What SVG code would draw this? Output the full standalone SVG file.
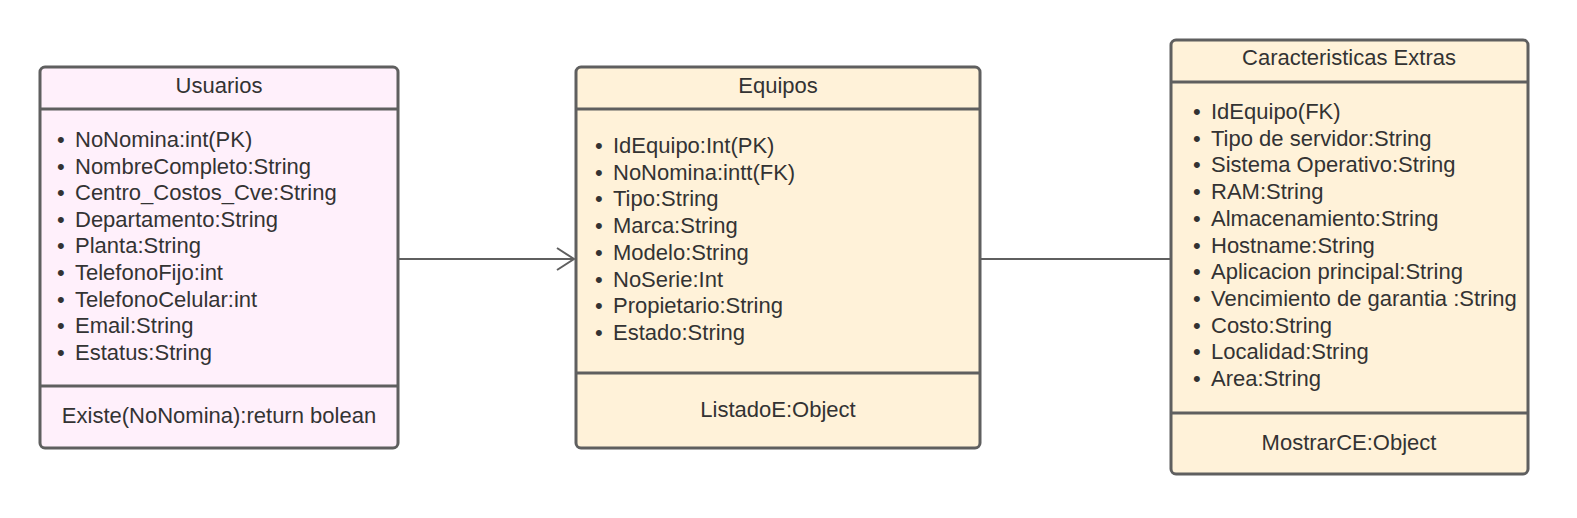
<svg xmlns="http://www.w3.org/2000/svg" width="1577" height="518" viewBox="0 0 1577 518">
<style>
.box{stroke:#5f5f5f;stroke-width:3}
.pink{fill:#fff0fb}
.cream{fill:#fff2d9}
.div{stroke:#5f5f5f;stroke-width:3;fill:none}
text{font-family:"Liberation Sans",Arial,sans-serif;font-size:22px;fill:#333333}
.c{text-anchor:middle}
.conn{stroke:#5f5f5f;stroke-width:2;fill:none}
</style>
<rect width="1577" height="518" fill="#ffffff"/>
<g id="connectors">
<line class="conn" x1="399" y1="259" x2="574" y2="259"/>
<polyline class="conn" points="557,248 574,259 557,270"/>
<line class="conn" x1="980" y1="259" x2="1171" y2="259"/>
</g>
<g id="usuarios">
<rect class="box pink" x="40" y="67" width="358" height="381" rx="5"/>
<line class="div" x1="40" y1="109" x2="398" y2="109"/>
<line class="div" x1="40" y1="386" x2="398" y2="386"/>
<text class="c" x="219" y="93">Usuarios</text>
<g>
<text x="57" y="147">•</text><text x="75" y="147">NoNomina:int(PK)</text>
<text x="57" y="173.6">•</text><text x="75" y="173.6">NombreCompleto:String</text>
<text x="57" y="200.2">•</text><text x="75" y="200.2">Centro_Costos_Cve:String</text>
<text x="57" y="226.8">•</text><text x="75" y="226.8">Departamento:String</text>
<text x="57" y="253.4">•</text><text x="75" y="253.4">Planta:String</text>
<text x="57" y="280">•</text><text x="75" y="280">TelefonoFijo:int</text>
<text x="57" y="306.6">•</text><text x="75" y="306.6">TelefonoCelular:int</text>
<text x="57" y="333.2">•</text><text x="75" y="333.2">Email:String</text>
<text x="57" y="359.8">•</text><text x="75" y="359.8">Estatus:String</text>
</g>
<text class="c" x="219" y="423">Existe(NoNomina):return bolean</text>
</g>
<g id="equipos">
<rect class="box cream" x="576" y="67" width="404" height="381" rx="5"/>
<line class="div" x1="576" y1="109" x2="980" y2="109"/>
<line class="div" x1="576" y1="373" x2="980" y2="373"/>
<text class="c" x="778" y="93">Equipos</text>
<g>
<text x="595" y="153">•</text><text x="613" y="153">IdEquipo:Int(PK)</text>
<text x="595" y="179.7">•</text><text x="613" y="179.7">NoNomina:intt(FK)</text>
<text x="595" y="206.4">•</text><text x="613" y="206.4">Tipo:String</text>
<text x="595" y="233.1">•</text><text x="613" y="233.1">Marca:String</text>
<text x="595" y="259.8">•</text><text x="613" y="259.8">Modelo:String</text>
<text x="595" y="286.5">•</text><text x="613" y="286.5">NoSerie:Int</text>
<text x="595" y="313.2">•</text><text x="613" y="313.2">Propietario:String</text>
<text x="595" y="339.9">•</text><text x="613" y="339.9">Estado:String</text>
</g>
<text class="c" x="778" y="417">ListadoE:Object</text>
</g>
<g id="caracteristicas">
<rect class="box cream" x="1171" y="40" width="357" height="434" rx="5"/>
<line class="div" x1="1171" y1="82" x2="1528" y2="82"/>
<line class="div" x1="1171" y1="413" x2="1528" y2="413"/>
<text class="c" x="1349" y="65">Caracteristicas Extras</text>
<g>
<text x="1193" y="119">•</text><text x="1211" y="119">IdEquipo(FK)</text>
<text x="1193" y="145.7">•</text><text x="1211" y="145.7">Tipo de servidor:String</text>
<text x="1193" y="172.4">•</text><text x="1211" y="172.4">Sistema Operativo:String</text>
<text x="1193" y="199.1">•</text><text x="1211" y="199.1">RAM:String</text>
<text x="1193" y="225.8">•</text><text x="1211" y="225.8">Almacenamiento:String</text>
<text x="1193" y="252.5">•</text><text x="1211" y="252.5">Hostname:String</text>
<text x="1193" y="279.2">•</text><text x="1211" y="279.2">Aplicacion principal:String</text>
<text x="1193" y="305.9">•</text><text x="1211" y="305.9">Vencimiento de garantia :String</text>
<text x="1193" y="332.6">•</text><text x="1211" y="332.6">Costo:String</text>
<text x="1193" y="359.3">•</text><text x="1211" y="359.3">Localidad:String</text>
<text x="1193" y="386">•</text><text x="1211" y="386">Area:String</text>
</g>
<text class="c" x="1349" y="450">MostrarCE:Object</text>
</g>
</svg>
